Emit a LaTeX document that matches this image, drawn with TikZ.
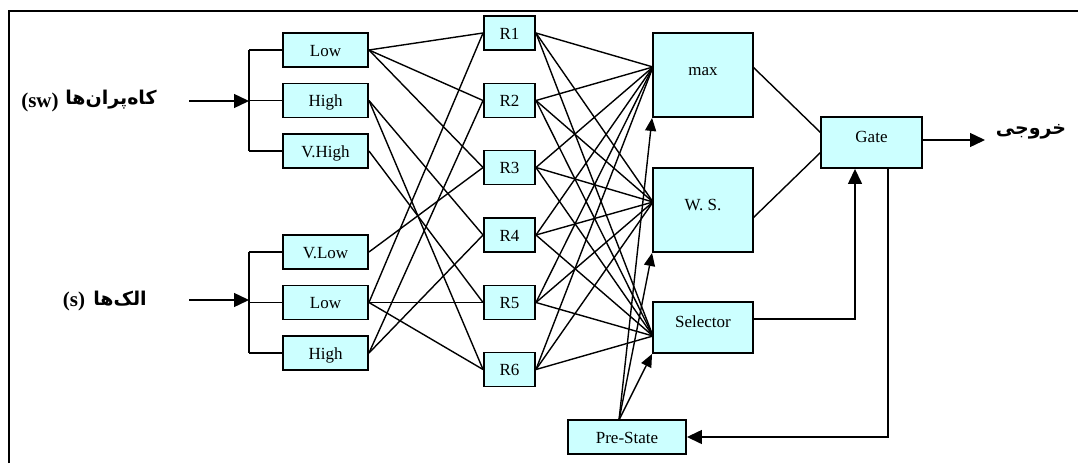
\documentclass[tikz,border=0pt]{standalone}
\usepackage{fontspec}
\setmainfont{Liberation Serif}
\newfontfamily\fa[Script=Arabic]{DejaVu Sans}
\TeXXeTstate=1
\usetikzlibrary{arrows.meta}
\definecolor{boxfill}{HTML}{CCFFFF}
\begin{document}
\begin{tikzpicture}[x=1pt,y=-1pt,
  box/.style={draw, line width=1.9pt, fill=boxfill, inner sep=0pt,
    font=\fontsize{17}{17}\selectfont, text height=12pt, text depth=0pt},
  bigbox/.style={box, text height=0pt, text depth=0pt},
  wire/.style={line width=1.4pt},
  arr/.style={wire, -{Triangle[length=15pt,width=14pt]}},
  sarr/.style={wire, -{Triangle[length=13pt,width=11pt]}},
  lbl/.style={font=\fontsize{21}{22}\selectfont\bfseries},
  falbl/.style={font=\fontsize{19}{22}\selectfont\bfseries\fa},
  frame/.style={line width=1.8pt}]
\useasboundingbox (0,0) rectangle (1078,463);
% frame
\coordinate (ftl) at (9,11);
\coordinate (ftr) at (1078,11);
\coordinate (fbl) at (9,463);
\draw[frame] (fbl) -- (ftl) -- (ftr);
% input boxes
\node[box, minimum width=85pt, minimum height=34pt] (L1) at (325.5,50) {Low};
\node[box, minimum width=85pt, minimum height=34pt] (H1) at (325.5,100.5) {High};
\node[box, minimum width=85pt, minimum height=34pt] (VH1) at (325.5,151) {V.High};
\node[box, minimum width=85pt, minimum height=34pt] (VL2) at (325.5,252) {V.Low};
\node[box, minimum width=85pt, minimum height=34pt] (L2) at (325.5,302.5) {Low};
\node[box, minimum width=85pt, minimum height=34pt] (H2) at (325.5,353) {High};
% rule boxes
\foreach \i/\y in {1/33,2/100.5,3/167.5,4/235,5/302.5,6/369.5}{
  \node[box, minimum width=51pt, minimum height=34pt] (R\i) at (509.5,\y) {R\i};
}
% right boxes
\node[bigbox, minimum width=100pt, minimum height=84pt] (max) at (703,75) {max};
\node[bigbox, minimum width=100pt, minimum height=84pt] (ws) at (703,210) {W. S.};
\node[bigbox, minimum width=100pt, minimum height=51pt] (sel) at (703,327.5) {Selector};
\node[bigbox, minimum width=101pt, minimum height=51pt] (gate) at (871.5,142.5) {Gate};
\node[box, minimum width=118pt, minimum height=34pt] (pre) at (627,437) {Pre-State};
% labels
\node[lbl] (swlat) at (40,102) {(sw)};
\node[falbl] (swfa) at (111,100) {\beginR کاه‌پران‌ها\endR};
\node[lbl] (slat) at (74,301) {(s)};
\node[falbl] (sfa) at (120,299) {\beginR الک‌ها\endR};
\node[falbl] (outlbl) at (1031,132) {\beginR خروجی\endR};
% input brackets
\coordinate (b1) at (249,101);
\coordinate (a1) at (189,101);
\draw[wire] (b1 |- L1.west) -- (b1 |- VH1.west);
\draw[wire] (b1 |- L1.west) -- (L1.west);
\draw[wire] (b1 |- H1.west) -- (H1.west);
\draw[wire] (b1 |- VH1.west) -- (VH1.west);
\draw[arr] (a1) -- (b1);
\coordinate (b2) at (249,300);
\coordinate (a2) at (189,300);
\draw[wire] (b2 |- VL2.west) -- (b2 |- H2.west);
\draw[wire] (b2 |- VL2.west) -- (VL2.west);
\draw[wire] (b2 |- L2.west) -- (L2.west);
\draw[wire] (b2 |- H2.west) -- (H2.west);
\draw[arr] (a2) -- (b2);
% fuzzy sets to rules
\foreach \a/\b in {L1/R1,L1/R2,L1/R3,H1/R4,H1/R6,VH1/R5,VL2/R3,L2/R1,L2/R5,L2/R6,H2/R2,H2/R4}{
  \draw[wire] (\a.east) -- (\b.west);
}
% rules to combiners
\coordinate (cmax) at (653,67);
\coordinate (cws) at (653,202);
\coordinate (csel) at (653,336);
\foreach \i in {1,...,6}{
  \draw[wire] (R\i.east) -- (cmax);
  \draw[wire] (R\i.east) -- (cws);
  \draw[wire] (R\i.east) -- (csel);
}
% pre-state arrows
\coordinate (pst) at (619,420);
\draw[sarr] (pst) -- (max.south west);
\draw[sarr] (pst) -- (ws.south west);
\draw[sarr] (pst) -- (sel.south west);
% to gate
\coordinate (mxo) at (753,67);
\coordinate (wso) at (753,218);
\coordinate (gi1) at (821,133);
\coordinate (gi2) at (821,152);
\draw[wire] (mxo) -- (gi1);
\draw[wire] (wso) -- (gi2);
\coordinate (selo) at (753,319);
\coordinate (gsx) at (855,319);
\draw[arr] (selo) -- (gsx) -- (gsx |- gate.south);
\coordinate (gfx) at (888,168);
\coordinate (gfc) at (888,437);
\draw[arr] (gfx) -- (gfc) -- (pre.east);
\coordinate (gout) at (985,140);
\draw[arr] (gate.east |- gout) -- (gout);
\end{tikzpicture}
\end{document}
